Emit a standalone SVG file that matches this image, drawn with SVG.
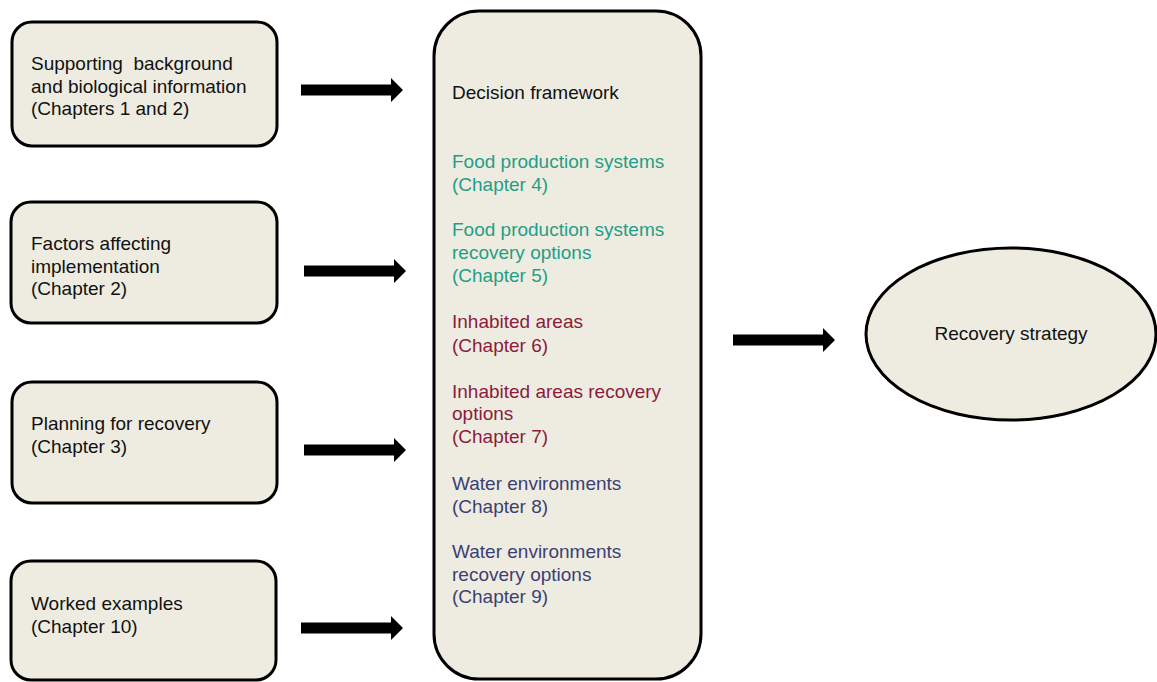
<svg xmlns="http://www.w3.org/2000/svg" width="1157" height="682" viewBox="0 0 1157 682">
<defs>
<style>
.box{fill:#eeece1;stroke:#000;stroke-width:3}
text{font-family:"Liberation Sans",Arial,sans-serif;font-size:19px;fill:#111}
.teal{fill:#1f9e86}
.red{fill:#8c1a3c}
.navy{fill:#3b3f74}
.arr{fill:#000}
</style>
<path id="arrowShape" d="M0,-5.5 H90 V-12 L102,0 L90,12 V5.5 H0 Z"/>
</defs>
<rect width="1157" height="682" fill="#fff"/>
<g id="node-background">
<rect class="box" x="12" y="22" width="265" height="124" rx="20"/>
<text x="31" y="70" xml:space="preserve">Supporting  background</text>
<text x="31" y="93">and biological information</text>
<text x="31" y="115">(Chapters 1 and 2)</text>
</g>
<g id="node-factors">
<rect class="box" x="11" y="202" width="266" height="121" rx="20"/>
<text x="31" y="250">Factors affecting</text>
<text x="31" y="273">implementation</text>
<text x="31" y="295">(Chapter 2)</text>
</g>
<g id="node-planning">
<rect class="box" x="12" y="382" width="265" height="121" rx="20"/>
<text x="31" y="430">Planning for recovery</text>
<text x="31" y="453">(Chapter 3)</text>
</g>
<g id="node-worked">
<rect class="box" x="11" y="561" width="265" height="119" rx="20"/>
<text x="31" y="610">Worked examples</text>
<text x="31" y="633">(Chapter 10)</text>
</g>
<g id="node-framework">
<rect class="box" x="434" y="11" width="267" height="668" rx="45"/>
<text x="452" y="99">Decision framework</text>
<text class="teal" x="452" y="168">Food production systems</text>
<text class="teal" x="452" y="191">(Chapter 4)</text>
<text class="teal" x="452" y="236">Food production systems</text>
<text class="teal" x="452" y="259">recovery options</text>
<text class="teal" x="452" y="282">(Chapter 5)</text>
<text class="red" x="452" y="328">Inhabited areas</text>
<text class="red" x="452" y="352">(Chapter 6)</text>
<text class="red" x="452" y="398">Inhabited areas recovery</text>
<text class="red" x="452" y="420">options</text>
<text class="red" x="452" y="443">(Chapter 7)</text>
<text class="navy" x="452" y="490">Water environments</text>
<text class="navy" x="452" y="513">(Chapter 8)</text>
<text class="navy" x="452" y="558">Water environments</text>
<text class="navy" x="452" y="581">recovery options</text>
<text class="navy" x="452" y="603">(Chapter 9)</text>
</g>
<g id="node-strategy">
<ellipse class="box" cx="1011" cy="334" rx="145" ry="86"/>
<text x="1011" y="340" text-anchor="middle">Recovery strategy</text>
</g>
<g id="connectors">
<use class="arr" href="#arrowShape" x="301" y="90"/>
<use class="arr" href="#arrowShape" x="304" y="271"/>
<use class="arr" href="#arrowShape" x="304" y="450"/>
<use class="arr" href="#arrowShape" x="301" y="628"/>
<use class="arr" href="#arrowShape" x="733" y="340"/>
</g>
</svg>
